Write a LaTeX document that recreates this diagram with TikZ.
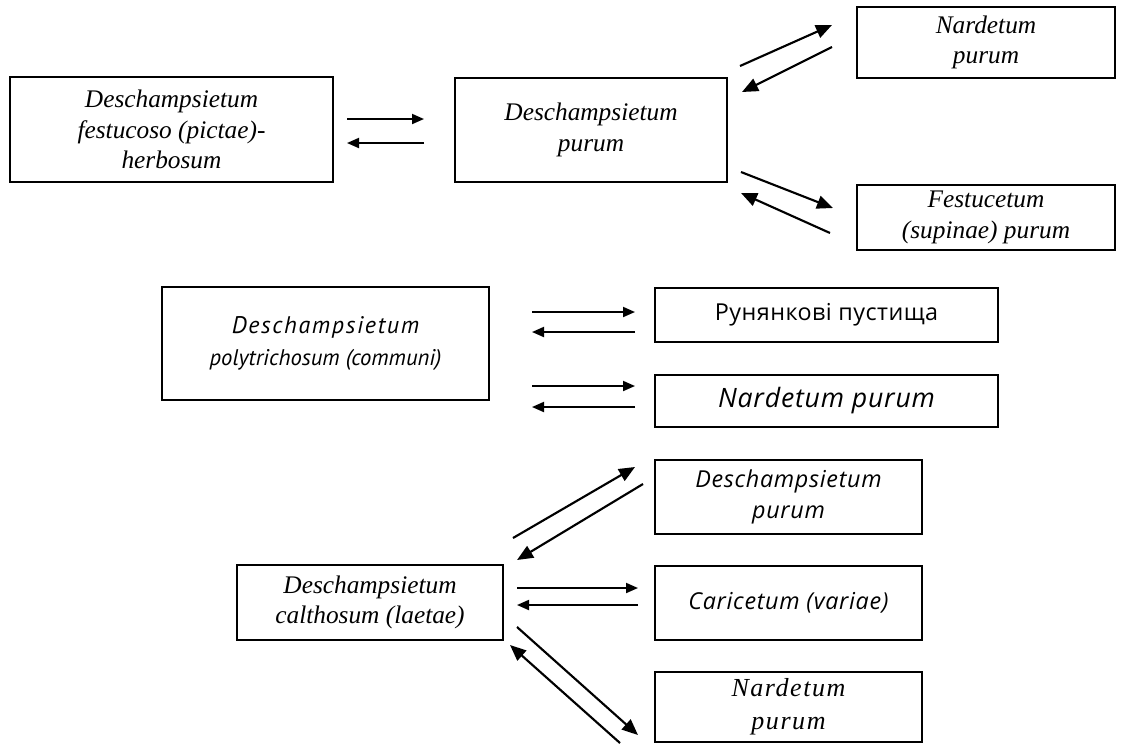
\documentclass[tikz,border=0pt]{standalone}
\usepackage{fontspec}
\setmainfont{Liberation Serif}
\newfontfamily\spserif[LetterSpace=6]{Liberation Serif}
\newfontfamily\humsans{PT Sans}
\newfontfamily\humsansls[LetterSpace=7]{PT Sans}
\newfontfamily\widesans[LetterSpace=3]{Open Sans}
\newfontfamily\cyrsans[LetterSpace=2]{Open Sans}
\usetikzlibrary{arrows.meta}
\tikzset{
  box/.style={draw, line width=1pt, inner sep=0pt, align=center, font=\fontsize{19}{23}\selectfont\itshape},
  spbox/.style={box, font=\spserif\fontsize{19.5}{24.5}\selectfont\itshape},
  pbox/.style={box, font=\humsans\fontsize{17}{24}\selectfont\itshape},
  sbox/.style={box, font=\widesans\fontsize{17.5}{23}\selectfont\itshape},
  nbox/.style={box, font=\widesans\fontsize{20}{23}\selectfont\itshape},
  cbox/.style={box, font=\cyrsans\fontsize{17.5}{22.5}\selectfont},
  arr/.style={line width=1.6pt, -{Triangle[length=12pt,width=10pt]}},
  harr/.style={line width=1.4pt, -{Triangle[length=9pt,width=7.5pt]}}
}
\begin{document}
\begin{tikzpicture}[x=0.75pt,y=-0.75pt]
\useasboundingbox (0,0) rectangle (1123,744);
% boxes
\node[box, minimum width=242.25pt, minimum height=78.75pt] (b1) at (171.5,129.5) {Deschampsietum\\festucoso (pictae)-\\herbosum};
\node[box, minimum width=204pt, minimum height=78pt] (b2) at (591,130) {Deschampsietum\\purum};
\node[box, minimum width=193.5pt, minimum height=53.25pt] (b3) at (986,42.5) {Nardetum\\purum};
\node[box, minimum width=193.5pt, minimum height=48.75pt] (b4) at (986,217.5) {Festucetum\\(supinae) purum};
\node[pbox, minimum width=245.25pt, minimum height=84.75pt] (b5) at (325.5,343.5) {{\humsansls\fontsize{18}{24}\selectfont Deschampsietum}\\polytrichosum (communi)};
\node[cbox, minimum width=257.25pt, minimum height=40.5pt] (b6) at (826.5,315) {Рунянкові пустища};
\node[nbox, minimum width=257.25pt, minimum height=39pt] (b7) at (826.5,401) {Nardetum purum};
\node[sbox, minimum width=200.25pt, minimum height=55.5pt] (b8) at (788.5,497) {Deschampsietum\\purum};
\node[box, minimum width=199.5pt, minimum height=56.25pt] (b9) at (370,602.5) {Deschampsietum\\calthosum (laetae)};
\node[sbox, minimum width=200.25pt, minimum height=55.5pt] (b10) at (788.5,603) {Caricetum (variae)};
\node[spbox, minimum width=200.25pt, minimum height=52.5pt] (b11) at (788.5,707) {Nardetum\\purum};
% arrow end points
\coordinate (a1s) at (347,119); \coordinate (a1e) at (424,119);
\coordinate (a2s) at (424,143); \coordinate (a2e) at (347,143);
\coordinate (a3s) at (740,66);  \coordinate (a3e) at (832,25);
\coordinate (a4s) at (832,47);  \coordinate (a4e) at (742,92);
\coordinate (a5s) at (741,172); \coordinate (a5e) at (833,208);
\coordinate (a6s) at (830,233); \coordinate (a6e) at (741,193);
\coordinate (a7s) at (532,312); \coordinate (a7e) at (635,312);
\coordinate (a8s) at (635,332); \coordinate (a8e) at (532,332);
\coordinate (a9s) at (532,386); \coordinate (a9e) at (635,386);
\coordinate (a10s) at (635,407); \coordinate (a10e) at (532,407);
\coordinate (a11s) at (513,538); \coordinate (a11e) at (635,467);
\coordinate (a12s) at (643,484); \coordinate (a12e) at (517,560);
\coordinate (a13s) at (517,588); \coordinate (a13e) at (638,588);
\coordinate (a14s) at (638,605); \coordinate (a14e) at (517,605);
\coordinate (a15s) at (517,627); \coordinate (a15e) at (638,735);
\coordinate (a16s) at (620,743); \coordinate (a16e) at (510,645);
% arrows
\draw[harr] (a1s) -- (a1e);
\draw[harr] (a2s) -- (a2e);
\draw[arr] (a3s) -- (a3e);
\draw[arr] (a4s) -- (a4e);
\draw[arr] (a5s) -- (a5e);
\draw[arr] (a6s) -- (a6e);
\draw[harr] (a7s) -- (a7e);
\draw[harr] (a8s) -- (a8e);
\draw[harr] (a9s) -- (a9e);
\draw[harr] (a10s) -- (a10e);
\draw[arr] (a11s) -- (a11e);
\draw[arr] (a12s) -- (a12e);
\draw[harr] (a13s) -- (a13e);
\draw[harr] (a14s) -- (a14e);
\draw[arr] (a15s) -- (a15e);
\draw[arr] (a16s) -- (a16e);
\end{tikzpicture}
\end{document}
